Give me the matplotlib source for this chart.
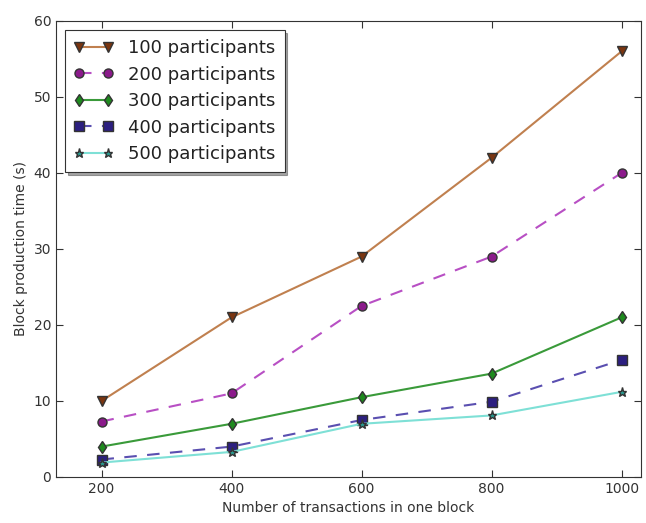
import matplotlib
matplotlib.use('Agg')
import matplotlib.pyplot as plt

tx = [200, 400, 600, 800, 1000]
p100 = [10, 21, 29, 42, 56]
p200 = [7.3, 11, 22.5, 29, 40]
p300 = [4, 7, 10.5, 13.6, 21]
p400 = [2.3, 4, 7.5, 9.9, 15.4]
p500 = [1.9, 3.3, 7, 8.1, 11.2]
labels = ['100 participants', '200 participants', '300 participants',
          '400 participants', '500 participants']

plt.rcParams['font.family'] = 'DejaVu Sans'
plt.rcParams['xtick.direction'] = 'in'
plt.rcParams['ytick.direction'] = 'in'
plt.rcParams['xtick.top'] = True
plt.rcParams['ytick.right'] = True

fig = plt.figure(figsize=(6.46, 5.23), dpi=100)
ax = fig.add_axes([56 / 646, 1 - 477 / 523, 585 / 646, 456 / 523])

ms = 6.5
ax.plot(tx, p100, '-', color='#c0804f', marker='v', markersize=ms,
        markerfacecolor='#7a3510', markeredgecolor='#333333', label=labels[0])
ax.plot(tx, p200, '--', color='#b84fc4', marker='o', markersize=ms, dashes=(6, 5),
        markerfacecolor='#8b1a8b', markeredgecolor='#333333', label=labels[1])
ax.plot(tx, p300, '-', color='#3a9a3a', marker='d', markersize=ms,
        markerfacecolor='#1e8a1e', markeredgecolor='#333333', label=labels[2])
ax.plot(tx, p400, '--', color='#5a4fb0', marker='s', markersize=ms, dashes=(6, 5),
        markerfacecolor='#2c1f80', markeredgecolor='#333333', label=labels[3])
ax.plot(tx, p500, '-', color='#7ee0d6', marker='*', markersize=ms,
        markerfacecolor='#2a9a90', markeredgecolor='#333333', label=labels[4])

ax.set_xlim(130, 1030)
ax.set_ylim(0, 60)
ax.set_xticks(tx)
ax.set_yticks([0, 10, 20, 30, 40, 50, 60])
ax.tick_params(labelsize=10, length=5, width=0.8, colors='#333333', labelcolor='#333333')
for s in ax.spines.values():
    s.set_color('#333333')
ax.set_xlabel('Number of transactions in one block', fontsize=10, color='#333333')
ax.set_ylabel('Block production time (s)', fontsize=10, color='#333333')

leg = ax.legend(loc='upper left', fontsize=13, shadow=True, fancybox=False,
                framealpha=1, edgecolor='#333333', handlelength=2.2, numpoints=2,
                borderpad=0.5, labelspacing=0.47, handletextpad=0.8)
leg.get_frame().set_linewidth(0.8)
for t in leg.get_texts():
    t.set_color('#222222')

fig.savefig('out.png', dpi=100, facecolor='white')
